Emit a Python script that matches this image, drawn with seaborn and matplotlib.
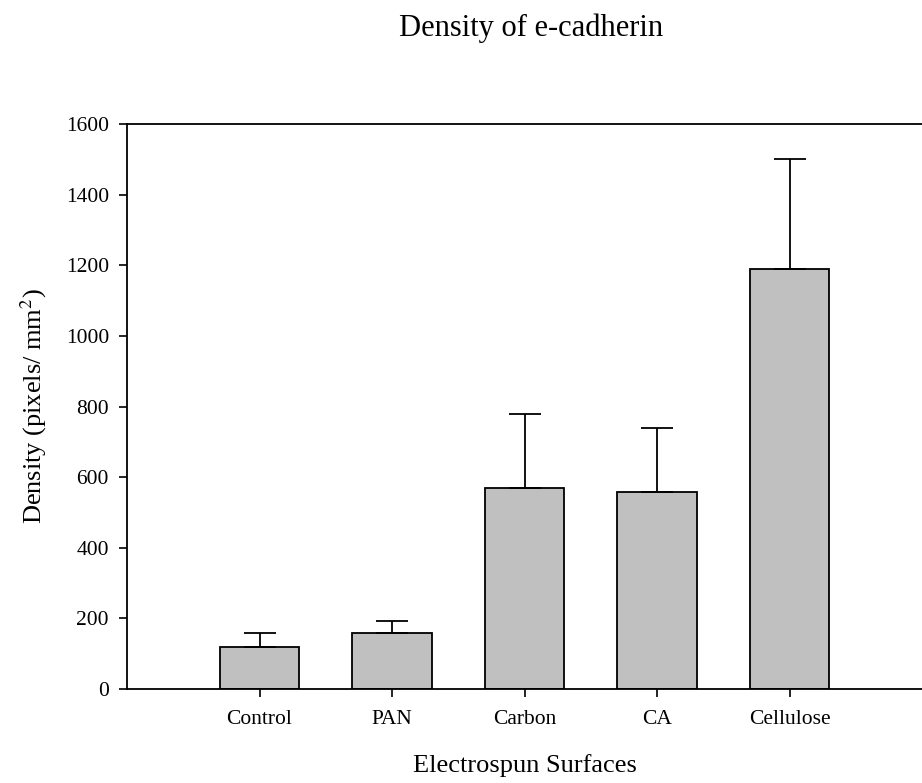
import matplotlib
matplotlib.use("Agg")
import matplotlib.pyplot as plt
import seaborn as sns
import pandas as pd
import numpy as np

categories = ["Control", "PAN", "Carbon", "CA", "Cellulose"]
density = [118, 158, 570, 559, 1188]
sem = [41, 35, 210, 180, 312]
yticks = [0, 200, 400, 600, 800, 1000, 1200, 1400, 1600]

sns.set_style("ticks")
plt.rcParams["font.family"] = ["Liberation Serif", "DejaVu Serif"]
plt.rcParams["mathtext.fontset"] = "stix"
plt.rcParams["text.color"] = "black"
plt.rcParams["axes.labelcolor"] = "black"
plt.rcParams["xtick.color"] = "black"
plt.rcParams["ytick.color"] = "black"

df = pd.DataFrame({"Surface": categories, "Density": density})

fig = plt.figure(figsize=(9.22, 7.83), dpi=100)
ax = fig.add_axes([127/922, (783-689)/783, (922-127)/922, (689-124)/783])

sns.barplot(data=df, x="Surface", y="Density", order=categories, color="#c0c0c0",
            edgecolor="black", linewidth=1.3, width=0.6, errorbar=None, saturation=1, ax=ax)
xs = np.arange(len(categories))
ax.errorbar(xs, density, yerr=[np.zeros(len(sem)), sem], fmt="none", ecolor="black",
            elinewidth=1.3, capsize=11.5, capthick=1.3, zorder=1)

ax.set_xlim(-1, 5)
ax.set_ylim(0, 1600)
ax.set_yticks(yticks)
ax.set_yticklabels([str(v) for v in yticks])
for s in ["left", "bottom", "top"]:
    ax.spines[s].set_visible(True)
    ax.spines[s].set_linewidth(1.3)
    ax.spines[s].set_color("black")
ax.spines["right"].set_visible(False)
ax.tick_params(axis="both", direction="out", length=6, width=1.2, labelsize=15.5, colors="black")
ax.tick_params(axis="y", pad=7)
ax.tick_params(axis="x", pad=9)

ax.set_xlabel("Electrospun Surfaces", fontsize=19, labelpad=18, color="black")
ax.set_ylabel("Density (pixels/ mm$^2$)", fontsize=19, labelpad=12, color="black")
fig.text(531/922, 1-36/783, "Density of e-cadherin", fontsize=22, ha="center", va="baseline", color="black")

fig.savefig("out.png", dpi=100)
